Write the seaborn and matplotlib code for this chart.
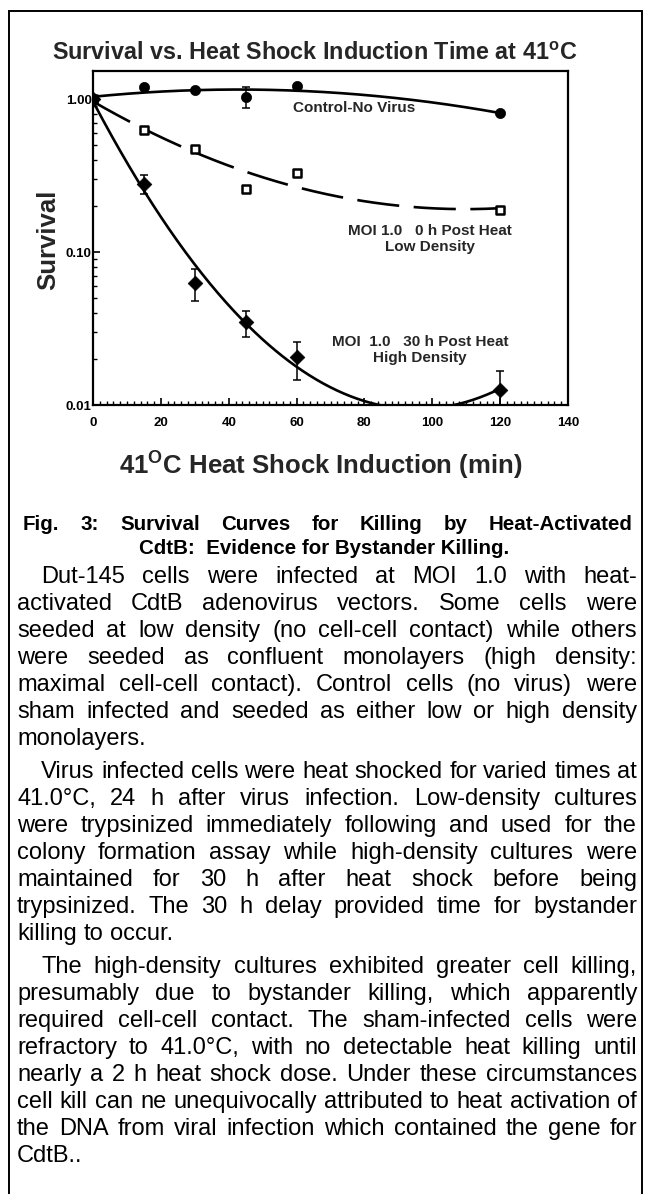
import numpy as np
import matplotlib
matplotlib.use("Agg")
import matplotlib.pyplot as plt
import seaborn as sns
from matplotlib.patches import Rectangle
from matplotlib.ticker import AutoMinorLocator, LogLocator, NullFormatter

# ---------------- data ----------------
time_min = [0, 15, 30, 45, 60, 120]
control = [1.00, 1.20, 1.15, 1.03, 1.22, 0.81]
low_density = [1.00, 0.63, 0.47, 0.26, 0.33, 0.19]
high_density = [1.00, 0.28, 0.063, 0.035, 0.0205, 0.0125]

ctrl_err_x = [45]
ctrl_err_mid = [1.03]
ctrl_err_lo = [0.87]
ctrl_err_hi = [1.21]

hd_err_x = [15, 30, 45, 60, 120]
hd_err_mid = [0.28, 0.063, 0.035, 0.0205, 0.0125]
hd_err_lo = [0.24, 0.048, 0.028, 0.0146, 0.0097]
hd_err_hi = [0.32, 0.078, 0.041, 0.026, 0.0167]

x_ticks = [0, 20, 40, 60, 80, 100, 120, 140]
y_ticks = [0.01, 0.1, 1.0]
y_tick_labels = ["0.01", "0.10", "1.00"]

title = "Survival vs. Heat Shock Induction Time at 41$^{\\mathbf{o}}$C"
x_label = "41$^{\\mathbf{O}}$C Heat Shock Induction (min)"
y_label = "Survival"

caption_head = [
    "Fig. 3:  Survival  Curves  for  Killing  by  Heat-Activated",
    "CdtB:  Evidence for Bystander Killing.",
]

paragraphs = [
    [
        "Dut-145 cells were infected at MOI 1.0 with heat-",
        "activated CdtB adenovirus vectors. Some cells were",
        "seeded at low density (no cell-cell contact) while others",
        "were seeded as confluent monolayers (high density:",
        "maximal cell-cell contact). Control cells (no virus) were",
        "sham infected and seeded as either low or high density",
        "monolayers.",
    ],
    [
        "Virus infected cells were heat shocked for varied times at",
        "41.0°C, 24 h after virus infection. Low-density cultures",
        "were trypsinized immediately following and used for the",
        "colony formation assay while high-density cultures were",
        "maintained for 30 h after heat shock before being",
        "trypsinized. The 30 h delay provided time for bystander",
        "killing to occur.",
    ],
    [
        "The high-density cultures exhibited greater cell killing,",
        "presumably due to bystander killing, which apparently",
        "required cell-cell contact. The sham-infected cells were",
        "refractory to 41.0°C, with no detectable heat killing until",
        "nearly a 2 h heat shock dose. Under these circumstances",
        "cell kill can ne unequivocally attributed to heat activation of",
        "the DNA from viral infection which contained the gene for",
        "CdtB..",
    ],
]

# ---------------- style ----------------
sns.set_theme(style="ticks")
plt.rcParams["font.family"] = ["Liberation Sans", "DejaVu Sans"]
plt.rcParams["mathtext.fontset"] = "custom"
plt.rcParams["mathtext.rm"] = "Liberation Sans"
plt.rcParams["mathtext.bf"] = "Liberation Sans:bold"

W, H = 649, 1194
fig = plt.figure(figsize=(W / 100, H / 100), dpi=100)
fig.patch.set_facecolor("white")


def fx(px):
    return px / W


def fy(py):
    return 1 - py / H


ax = fig.add_axes([fx(93), fy(405), fx(568) - fx(93), fy(71) - fy(405)])
ax.set_facecolor("white")

# fitted curves (quadratic in log survival)
xs = np.linspace(0, 120, 300)
fits = {}
for name, vals in [("control", control), ("low", low_density), ("high", high_density)]:
    coef = np.polyfit(time_min, np.log10(vals), 2)
    fits[name] = 10 ** np.polyval(coef, xs)

sns.lineplot(x=xs, y=fits["control"], ax=ax, color="black", lw=1.9, zorder=2)
sns.lineplot(x=xs, y=fits["low"], ax=ax, color="black", lw=1.9,
             linestyle=(0, (16, 5.5)), zorder=2)
sns.lineplot(x=xs, y=fits["high"], ax=ax, color="black", lw=1.9, zorder=2)

# error bars
ax.errorbar(ctrl_err_x, ctrl_err_mid,
            yerr=[np.subtract(ctrl_err_mid, ctrl_err_lo), np.subtract(ctrl_err_hi, ctrl_err_mid)],
            fmt="none", ecolor="black", elinewidth=1.1, capsize=3, capthick=1.1, zorder=3)
ax.errorbar(hd_err_x, hd_err_mid,
            yerr=[np.subtract(hd_err_mid, hd_err_lo), np.subtract(hd_err_hi, hd_err_mid)],
            fmt="none", ecolor="black", elinewidth=1.1, capsize=3, capthick=1.1, zorder=3)

# data points
sns.scatterplot(x=time_min, y=low_density, ax=ax, marker="s", s=32,
                facecolor="white", edgecolor="black", linewidth=1.8, zorder=4)
sns.scatterplot(x=time_min, y=high_density, ax=ax, marker="D", s=56,
                color="black", edgecolor="black", linewidth=0.5, zorder=5)
sns.scatterplot(x=time_min, y=control, ax=ax, marker="o", s=54,
                color="black", edgecolor="black", linewidth=0.5, zorder=5)

# annotations
ax.text(77, 0.873, "Control-No Virus", ha="center", va="center",
        fontsize=11, fontweight="bold")
ax.text(99.3, 0.1215, "MOI 1.0   0 h Post Heat\nLow Density", ha="center",
        va="center", fontsize=11, fontweight="bold", linespacing=1.2)
ax.text(96.4, 0.0228, "MOI  1.0   30 h Post Heat\nHigh Density", ha="center",
        va="center", fontsize=11, fontweight="bold", linespacing=1.2)

# axes
ax.set_yscale("log")
ax.set_xlim(0, 140)
ax.set_ylim(0.01, 1.53)
ax.set_xticks(x_ticks)
ax.set_xticklabels([str(t) for t in x_ticks])
ax.xaxis.set_minor_locator(AutoMinorLocator(10))
ax.set_yticks(y_ticks)
ax.set_yticklabels(y_tick_labels)
ax.yaxis.set_minor_locator(LogLocator(base=10, subs=np.arange(2, 10)))
ax.yaxis.set_minor_formatter(NullFormatter())
ax.set_xlabel("")
ax.set_ylabel("")
for sp in ax.spines.values():
    sp.set_visible(True)
    sp.set_linewidth(1.6)
    sp.set_color("black")
ax.tick_params(axis="both", which="both", direction="in", top=False, right=False,
               colors="black")
ax.tick_params(axis="both", which="major", length=5, width=1.2)
ax.tick_params(axis="both", which="minor", length=3, width=1.0)
ax.tick_params(axis="x", which="major", labelsize=9.5, pad=9)
ax.tick_params(axis="y", which="major", labelsize=9.5, pad=1)
for lab in ax.get_xticklabels() + ax.get_yticklabels():
    lab.set_fontweight("bold")

# titles / labels
fig.text(fx(315), fy(53), title, ha="center", va="center", fontsize=16.8, fontweight="bold")
fig.text(fx(321), fy(465), x_label, ha="center", va="center", fontsize=18.5, fontweight="bold")
fig.text(fx(48), fy(240), y_label, ha="center", va="center", fontsize=18.5,
         fontweight="bold", rotation=90)

# frame
fig.add_artist(Rectangle((fx(9), fy(1200)), fx(642) - fx(9), fy(11) - fy(1200),
                         transform=fig.transFigure, fill=False, edgecolor="black",
                         lw=1.4, clip_on=False))

# caption text, justified like the page
renderer = fig.canvas.get_renderer()


def measure(word, **kw):
    t = fig.text(0, 0, word, **kw)
    w = t.get_window_extent(renderer).width
    t.remove()
    return w


def draw_line(line, y_base, x0, x1, justify, **kw):
    words = line.split()
    widths = [measure(w, **kw) for w in words]
    space = measure("a a", **kw) - measure("aa", **kw)
    if justify and len(words) > 1:
        gap = (x1 - x0 - sum(widths)) / (len(words) - 1)
    else:
        gap = space
    x = x0
    for w, wd in zip(words, widths):
        fig.text(fx(x), fy(y_base), w, ha="left", va="baseline", **kw)
        x += wd + gap


head_kw = dict(fontsize=14.8, fontweight="bold", color="black")
draw_line(caption_head[0], 522 + 7.5, 23, 633, True, **head_kw)
fig.text(fx(324), fy(547 + 7.5), caption_head[1], ha="center", va="baseline", **head_kw)

body_kw = dict(fontsize=17, color="black")
line_step = 27
y = 575
for para in paragraphs:
    for i, line in enumerate(para):
        x0 = 41 if i == 0 else 17
        last = i == len(para) - 1
        draw_line(line, y + 8, x0, 637, not last, **body_kw)
        y += line_step
    y += 6

fig.savefig("out.png", dpi=100, facecolor="white")
